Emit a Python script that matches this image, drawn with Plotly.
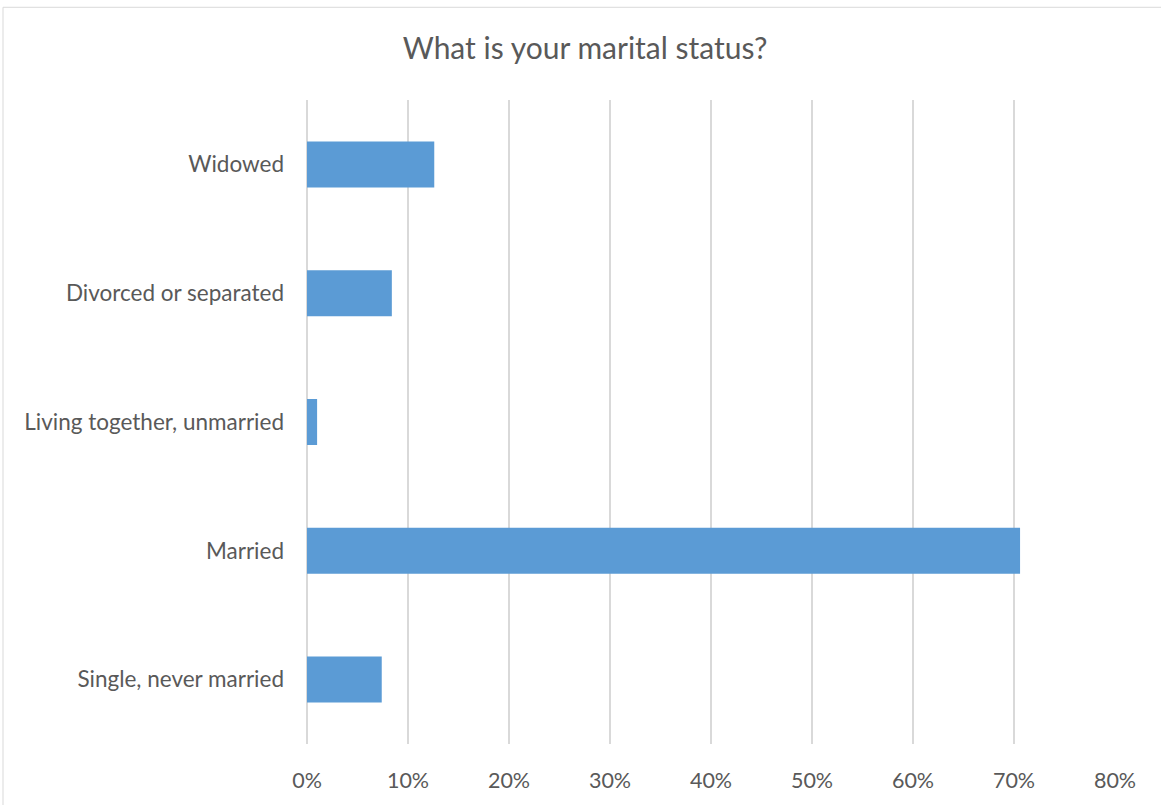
import plotly.graph_objects as go

# Survey responses: share of respondents by marital status
categories = [
    "Single, never married",
    "Married",
    "Living together, unmarried",
    "Divorced or separated",
    "Widowed",
]
shares = [7.4, 70.6, 1.0, 8.4, 12.6]  # percent

tick_vals = [0, 10, 20, 30, 40, 50, 60, 70, 80]
tick_text = ["0%", "10%", "20%", "30%", "40%", "50%", "60%", "70%", "80%"]

FONT = "Lato"
TEXT_GREY = "#595959"
GRID_GREY = "#d9d9d9"

fig = go.Figure(
    go.Bar(
        x=shares,
        y=categories,
        orientation="h",
        marker=dict(color="#5b9bd5", line=dict(width=0)),
        hoverinfo="x+y",
    )
)

fig.update_layout(
    width=1161,
    height=805,
    margin=dict(l=307, r=46, t=100, b=59),
    paper_bgcolor="white",
    plot_bgcolor="white",
    bargap=0.643,
    showlegend=False,
    title=dict(
        text="What is your marital status?",
        x=0.504,
        xanchor="center",
        y=1 - 48 / 805,
        yanchor="middle",
        yref="container",
        font=dict(family=FONT, size=30, color=TEXT_GREY),
    ),
    xaxis=dict(
        range=[0, 80],
        tickvals=tick_vals,
        ticktext=tick_text,
        showgrid=True,
        gridcolor=GRID_GREY,
        gridwidth=1.5,
        zeroline=True,
        zerolinecolor=GRID_GREY,
        zerolinewidth=1.5,
        showline=False,
        ticks="",
        ticklabelstandoff=21,
        tickfont=dict(family=FONT, size=21.5, color=TEXT_GREY),
        fixedrange=True,
    ),
    yaxis=dict(
        categoryorder="array",
        categoryarray=categories,
        showgrid=False,
        zeroline=False,
        showline=False,
        ticks="",
        ticklabelstandoff=22,
        tickfont=dict(family=FONT, size=22.5, color=TEXT_GREY),
        fixedrange=True,
    ),
    shapes=[
        dict(
            type="rect",
            xref="paper",
            yref="paper",
            x0=(3 - 307) / 808,
            x1=(1170 - 307) / 808,
            y0=(746 - 815) / 646,
            y1=(746 - 7) / 646,
            line=dict(color=GRID_GREY, width=1),
            fillcolor="rgba(0,0,0,0)",
            layer="below",
        )
    ],
)

fig.write_html("out.html")
